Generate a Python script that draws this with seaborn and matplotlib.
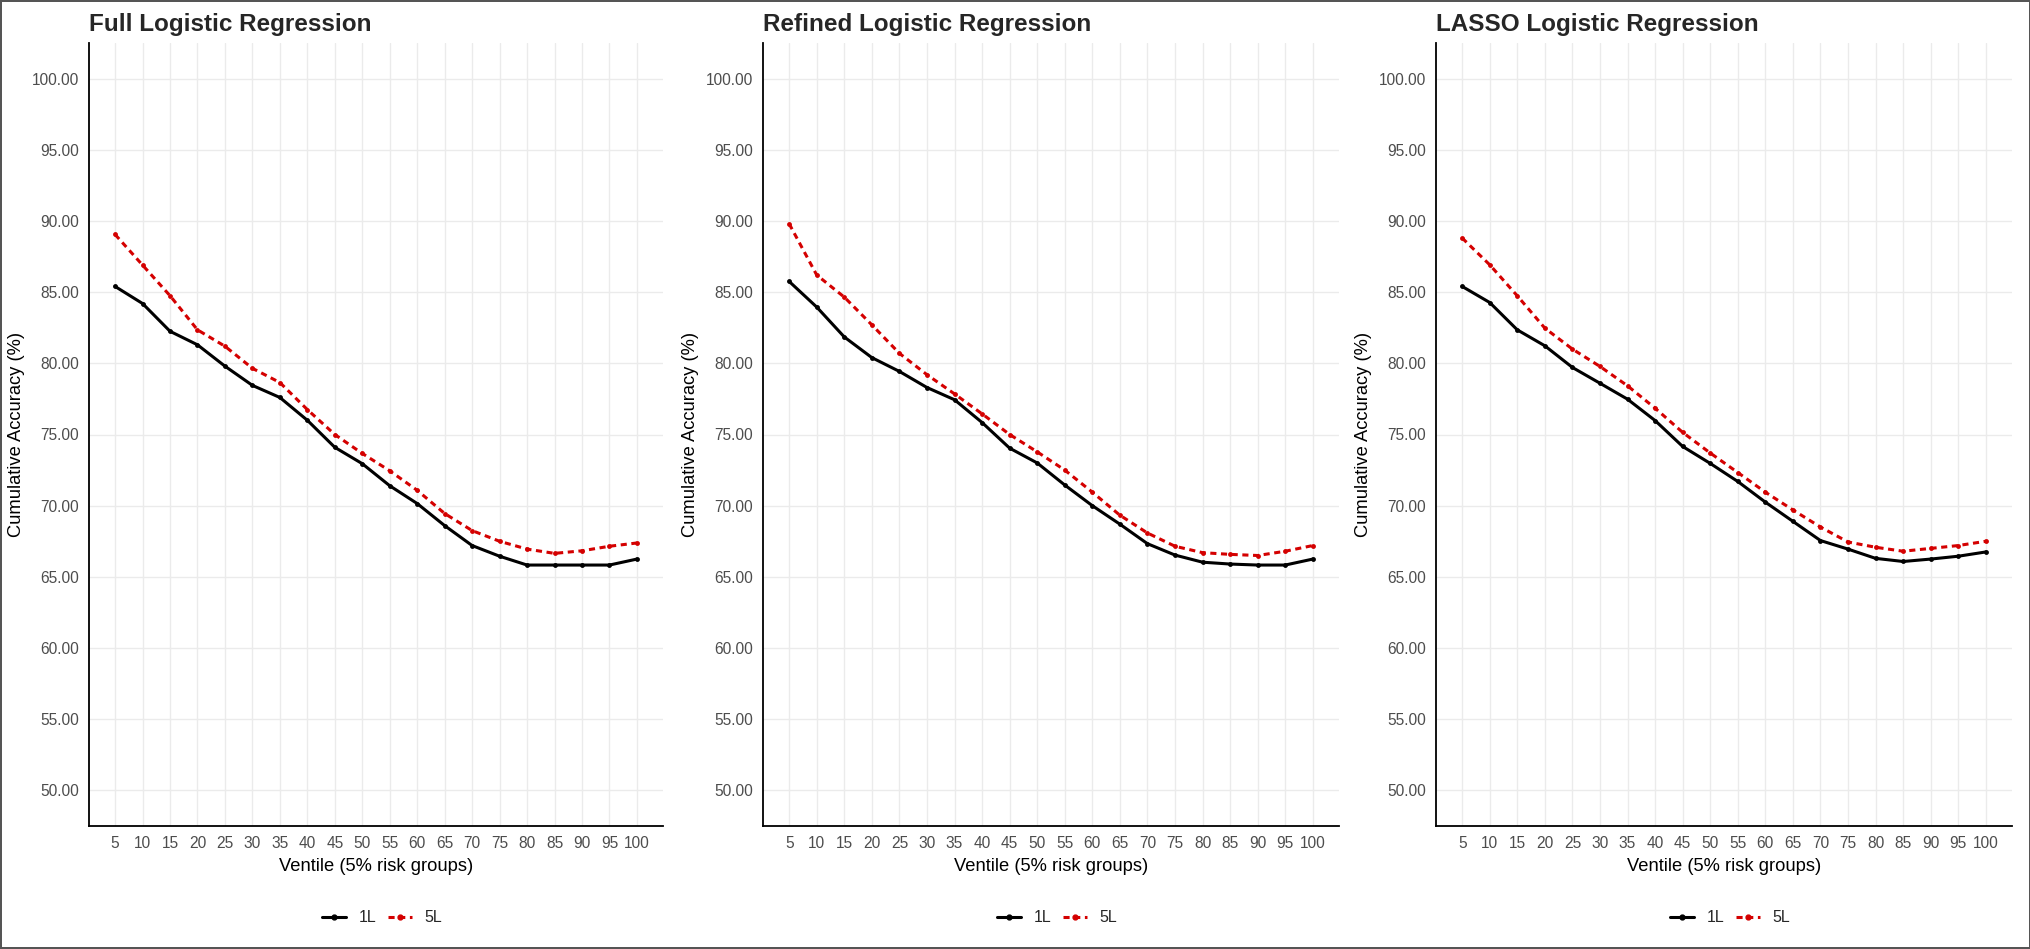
import numpy as np
import pandas as pd
import matplotlib
matplotlib.use("Agg")
import matplotlib.pyplot as plt
import seaborn as sns
from matplotlib.lines import Line2D

ventiles = [5, 10, 15, 20, 25, 30, 35, 40, 45, 50, 55, 60, 65, 70, 75, 80, 85, 90, 95, 100]

full_1L = [85.4, 84.2, 82.25, 81.3, 79.8, 78.45, 77.6, 76.0, 74.1, 72.95, 71.4, 70.15, 68.6, 67.2, 66.45, 65.83, 65.83, 65.83, 65.83, 66.25]
full_5L = [89.05, 86.9, 84.75, 82.35, 81.2, 79.65, 78.65, 76.75, 75.0, 73.67, 72.45, 71.08, 69.45, 68.25, 67.5, 66.95, 66.65, 66.83, 67.15, 67.38]

refined_1L = [85.75, 83.95, 81.85, 80.4, 79.43, 78.3, 77.44, 75.84, 74.04, 73.0, 71.45, 70.0, 68.7, 67.33, 66.53, 66.03, 65.9, 65.83, 65.83, 66.25]
refined_5L = [89.8, 86.2, 84.65, 82.7, 80.7, 79.2, 77.85, 76.45, 75.0, 73.78, 72.5, 70.95, 69.33, 68.08, 67.15, 66.7, 66.58, 66.5, 66.8, 67.2]

lasso_1L = [85.4, 84.27, 82.35, 81.23, 79.71, 78.6, 77.48, 75.98, 74.16, 72.97, 71.7, 70.25, 68.9, 67.55, 66.95, 66.3, 66.08, 66.25, 66.45, 66.75]
lasso_5L = [88.8, 86.92, 84.74, 82.47, 81.0, 79.78, 78.42, 76.85, 75.15, 73.7, 72.33, 70.95, 69.7, 68.5, 67.45, 67.08, 66.8, 67.0, 67.2, 67.5]

titles = ["Full Logistic Regression", "Refined Logistic Regression", "LASSO Logistic Regression"]
groups = ["1L", "5L"]
y_ticks = [50, 55, 60, 65, 70, 75, 80, 85, 90, 95, 100]

panels = [(full_1L, full_5L), (refined_1L, refined_5L), (lasso_1L, lasso_5L)]

sns.set_style("white")
plt.rcParams['font.family'] = ['Liberation Sans', 'DejaVu Sans']

W, H = 2031, 949
fig = plt.figure(figsize=(W / 100, H / 100), dpi=100)
fig.patch.set_facecolor("white")
fig.patch.set_edgecolor("#555555")
fig.patch.set_linewidth(1.5)

lefts = [89, 763, 1436]
rights = [663, 1339, 2012]
top_px, bot_px = 43, 826

RED = "#D40000"
palette = {"1L": "black", "5L": RED}
dashes = {"1L": "", "5L": (2.0, 1.5)}

for i, (title, (a, b)) in enumerate(zip(titles, panels)):
    pw = rights[i] - lefts[i]
    ax = fig.add_axes([lefts[i] / W, 1 - bot_px / H, pw / W, (bot_px - top_px) / H])
    df = pd.DataFrame({
        "Ventile": ventiles * 2,
        "Accuracy": a + b,
        "Group": ["1L"] * len(ventiles) + ["5L"] * len(ventiles),
    })
    sns.lineplot(data=df, x="Ventile", y="Accuracy", hue="Group", style="Group",
                 palette=palette, dashes=dashes, markers={"1L": "o", "5L": "o"},
                 markersize=3.5, markeredgewidth=0, linewidth=2.2, ax=ax, legend=False)
    ax.set_xlim(0.25, 104.75)
    ax.set_ylim(47.5, 102.5)
    ax.set_xticks(ventiles)
    ax.set_xticklabels([str(v) for v in ventiles])
    ax.set_yticks(y_ticks)
    ax.set_yticklabels([f"{v:.2f}" for v in y_ticks])
    ax.grid(True, color="#EBEBEB", linewidth=1.0)
    ax.set_axisbelow(True)
    for s in ["top", "right"]:
        ax.spines[s].set_visible(False)
    for s in ["left", "bottom"]:
        ax.spines[s].set_color("black")
        ax.spines[s].set_linewidth(1.3)
    ax.tick_params(axis="both", length=0, labelsize=11.2, labelcolor="#4D4D4D")
    ax.tick_params(axis="y", pad=7)
    ax.tick_params(axis="x", pad=7)
    ax.set_xlabel("Ventile (5% risk groups)", fontsize=13.2, color="black", labelpad=5)
    ax.set_ylabel("Cumulative Accuracy (%)", fontsize=13.2, color="black", labelpad=5)
    ax.set_title(title, loc="left", fontsize=17.5, fontweight="bold", pad=9)

    handles = [
        Line2D([0], [0], color="black", linewidth=2.2, marker="o", markersize=3.5),
        Line2D([0], [0], color=RED, linewidth=2.2, linestyle=(0, (2.0, 1.5)), marker="o", markersize=3.5),
    ]
    cx = (lefts[i] + pw / 2) / W
    fig.legend(handles, groups, loc="center", bbox_to_anchor=(cx + 6 / W, 1 - 918 / H), ncol=2,
               frameon=False, fontsize=11.5, handlelength=1.5, columnspacing=0.7, handletextpad=0.8)

fig.savefig("out.png", dpi=100, facecolor=fig.get_facecolor(), edgecolor=fig.get_edgecolor())
